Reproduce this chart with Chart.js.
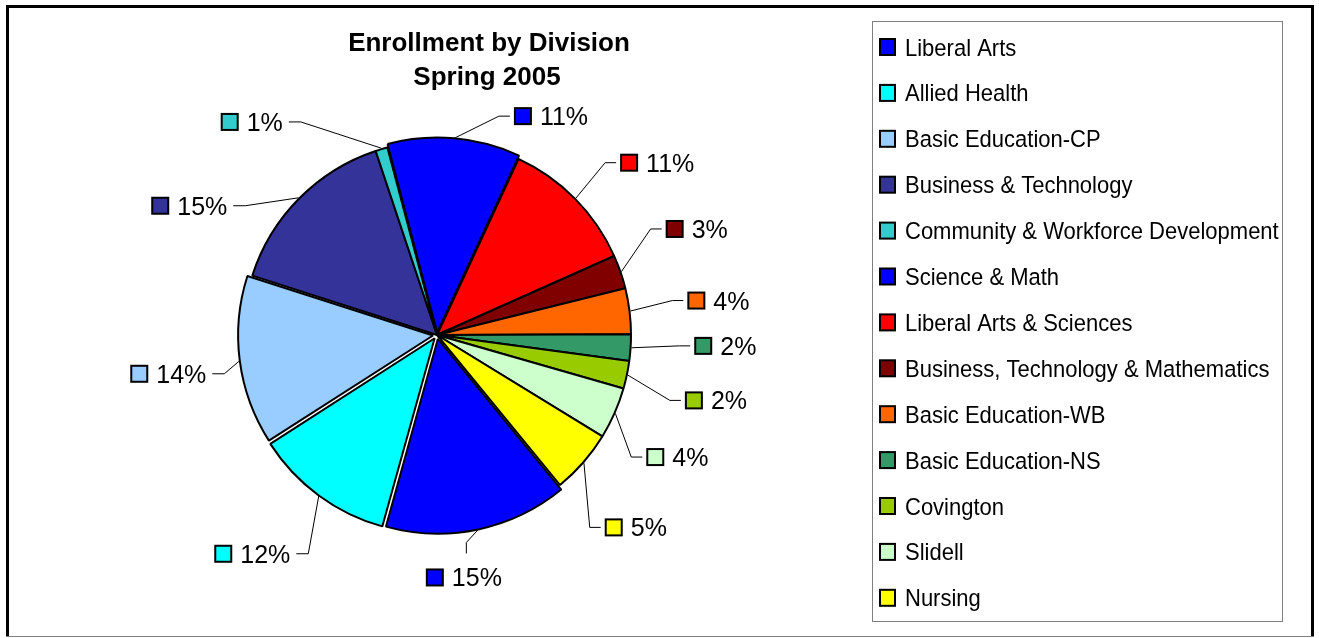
<!DOCTYPE html>
<html lang="en">
<head>
  <meta charset="UTF-8">
  <title>Enrollment by Division</title>
  <style>
    body {
      margin: 0;
      padding: 0;
      background-color: #fff;
    }

    .chart-box {
      width: 1319px;
      height: 638px;
    }
  </style>
</head>
<body>
  <div class="chart-box">
    <canvas id="enrollment-pie"></canvas>
  </div>

  <script src="https://cdn.jsdelivr.net/npm/chart.js"></script>
  <script>
    // Data for the pie, in legend order
    const titleLines = ['Enrollment by Division', 'Spring 2005'];
    const divisions = [
      'Liberal Arts', 'Allied Health', 'Basic Education-CP', 'Business & Technology',
      'Community & Workforce Development', 'Science & Math', 'Liberal Arts & Sciences',
      'Business, Technology & Mathematics', 'Basic Education-WB', 'Basic Education-NS',
      'Covington', 'Slidell', 'Nursing'
    ];
    const enrollmentShare = [15.2, 11.6, 14.0, 14.9, 1.0, 11.0, 11.4, 2.8, 3.8, 2.2, 2.3, 4.3, 5.3];
    const sliceColors = [
      '#0000ff', '#00ffff', '#99ccff', '#333399', '#33cccc', '#0000ff', '#ff0000',
      '#800000', '#ff6600', '#339966', '#99cc00', '#ccffcc', '#ffff00'
    ];

    // where Excel pushed each data label (degrees from the slice middle, distance from centre)
    const labelTurn = [5.5, 3.7, -0.8, -17.1, -24.3, 22.6, 6.6, -3.2, 0.1, -1.6, 1.3, 3.1, 2.9];
    const labelDist = [244, 286, 271, 279, 282, 247, 280, 281, 284, 289, 287, 270, 277];
    // slightly pulled-out slices (chart.js v4 moves an arc by offset / 4 px)
    const sliceOffset = [16, 16, 16, 0, 0, 10, 0, 0, 0, 0, 0, 0, 0];

    const total = enrollmentShare.reduce((a, b) => a + b, 0);
    const pctText = enrollmentShare.map(v => Math.round(v / total * 100) + '%');

    function keySquare(ctx, x, y, w, h, color) {
      ctx.fillStyle = color;
      ctx.fillRect(x, y, w, h);
      ctx.lineWidth = 2;
      ctx.strokeStyle = '#000';
      ctx.strokeRect(x, y, w, h);
    }

    const excelDecor = {
      id: 'excelDecor',
      afterDatasetsDraw(chart) {
        const ctx = chart.ctx;
        const arcs = chart.getDatasetMeta(0).data;

        ctx.save();
        ctx.font = '25px "Liberation Sans", Arial, sans-serif';
        ctx.textBaseline = 'alphabetic';
        arcs.forEach((arc, i) => {
          const p = arc.getProps(['x', 'y', 'startAngle', 'endAngle', 'outerRadius'], true);
          const mid = (p.startAngle + p.endAngle) / 2;
          const rimR = p.outerRadius + sliceOffset[i] / 4 + 1;
          const rx = p.x + rimR * Math.cos(mid);
          const ry = p.y + rimR * Math.sin(mid);

          const a = mid + labelTurn[i] * Math.PI / 180;
          const lx = p.x + labelDist[i] * Math.cos(a);
          const ly = p.y + labelDist[i] * Math.sin(a);
          const tw = ctx.measureText(pctText[i]).width;
          const bw = 16 + 9 + tw;
          const keyLeft = lx - bw / 2;
          const textRight = keyLeft + bw;

          // leader line
          let pts;
          const fromBottom = Math.abs(Math.atan2(Math.cos(a), Math.sin(a)));
          if (fromBottom < 0.25) {
            pts = [[lx + 2, ly - 35], [lx + 2, ly - 24]];
          } else if (Math.cos(a) >= 0) {
            pts = [[keyLeft - 16, ly], [keyLeft - 5, ly]];
          } else {
            pts = [[textRight + 18, ly], [textRight + 6, ly]];
          }
          ctx.beginPath();
          ctx.moveTo(rx, ry);
          pts.forEach(q => ctx.lineTo(q[0], q[1]));
          ctx.lineWidth = 1;
          ctx.strokeStyle = '#000';
          ctx.stroke();

          keySquare(ctx, keyLeft, ly - 8, 16, 16, sliceColors[i]);
          ctx.fillStyle = '#000';
          ctx.textAlign = 'left';
          ctx.fillText(pctText[i], keyLeft + 25, ly + 9);
        });
        ctx.restore();
      },
      afterDraw(chart) {
        const ctx = chart.ctx;
        ctx.save();

        // outer frame
        ctx.fillStyle = '#000';
        ctx.fillRect(6, 5, 3, 632);
        ctx.fillRect(6, 5, 1308, 3);
        ctx.fillRect(1311, 5, 3, 632);
        ctx.fillStyle = '#808080';
        ctx.fillRect(6, 636, 1308, 1);

        // title
        ctx.fillStyle = '#000';
        ctx.font = 'bold 26px "Liberation Sans", Arial, sans-serif';
        ctx.textAlign = 'center';
        ctx.textBaseline = 'alphabetic';
        ctx.fillText(titleLines[0], 489, 51);
        ctx.fillText(titleLines[1], 487, 85);

        // legend
        ctx.lineWidth = 1;
        ctx.strokeStyle = '#808080';
        ctx.strokeRect(872.5, 21.5, 410, 600);
        ctx.font = '22px "Liberation Sans", Arial, sans-serif';
        ctx.textAlign = 'left';
        divisions.forEach((name, i) => {
          const cy = 47 + i * 45.9;
          keySquare(ctx, 880, cy - 8, 15, 16, sliceColors[i]);
          ctx.save();
          ctx.translate(905, cy + 8.5);
          ctx.scale(1, 1.12);
          ctx.fillStyle = '#000';
          ctx.fillText(name, 0, 0);
          ctx.restore();
        });

        ctx.restore();
      }
    };

    const pieCtx = document.getElementById('enrollment-pie').getContext('2d');
    const enrollmentChart = new Chart(pieCtx, {
      type: 'pie',
      data: {
        labels: divisions,
        datasets: [{
          data: enrollmentShare,
          backgroundColor: sliceColors,
          borderColor: '#000',
          borderWidth: 2,
          offset: sliceOffset,
          hoverOffset: 0
        }]
      },
      options: {
        responsive: true,
        maintainAspectRatio: false,
        animation: false,
        rotation: 140.65,
        radius: 194,
        layout: {
          padding: { left: 232, right: 677, top: 125, bottom: 93 }
        },
        plugins: {
          legend: { display: false },
          title: { display: false },
          tooltip: { enabled: false }
        }
      },
      plugins: [excelDecor]
    });
  </script>
</body>
</html>
